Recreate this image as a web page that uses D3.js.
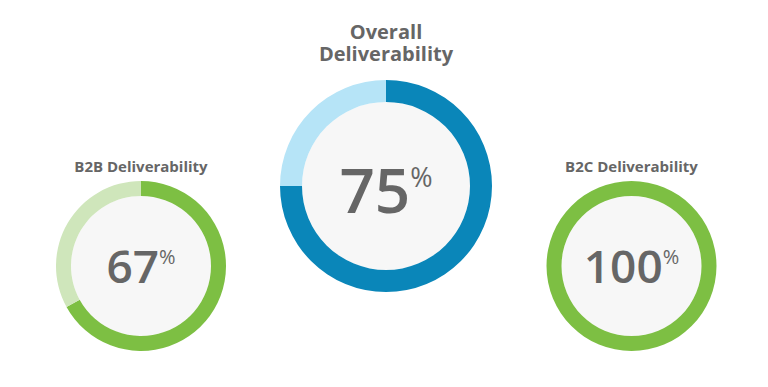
<!DOCTYPE html>
<html><head><meta charset="utf-8">
<script src="https://cdn.jsdelivr.net/npm/d3@7"></script>
<style>
html,body{margin:0;padding:0;background:#fff;}
svg{display:block;font-family:"Open Sans",sans-serif;}
</style></head>
<body><svg id="c" width="768" height="387"></svg>
<script>
// Data
const categories = ["B2B Deliverability", "Overall Deliverability", "B2C Deliverability"];
const titleLines = [["B2B Deliverability"], ["Overall", "Deliverability"], ["B2C Deliverability"]];
const values = [67, 75, 100];
const total = 100;

// Layout (not data)
const layout = [
  {cx: 141, cy: 266, r: 85, w: 15, dark: "#7dbf43", light: "#cfe6bb", numSize: 46, pctSize: 20, titleSize: 15, titleY: [172], numBase: 283},
  {cx: 386, cy: 186, r: 106, w: 22, dark: "#0a86b9", light: "#b6e4f7", numSize: 62, pctSize: 27, titleSize: 20, titleY: [39, 61], numBase: 213},
  {cx: 631.5, cy: 266, r: 85, w: 15, dark: "#7dbf43", light: "#cfe6bb", numSize: 46, pctSize: 20, titleSize: 15, titleY: [172], numBase: 283}
];

const svg = d3.select("#c");
const pie = d3.pie().sort(null).value(d => d);

values.forEach((v, i) => {
  const L = layout[i];
  const g = svg.append("g").attr("transform", `translate(${L.cx},${L.cy})`);
  const arc = d3.arc().innerRadius(L.r - L.w).outerRadius(L.r);
  g.append("circle").attr("r", L.r - L.w).attr("fill", "#f7f7f7");
  const arcs = pie([v, total - v]);
  g.selectAll("path").data(arcs).join("path")
    .attr("d", arc)
    .attr("fill", (d, j) => j === 0 ? L.dark : L.light);
  const t = g.append("text")
    .attr("y", L.numBase - L.cy)
    .attr("text-anchor", "middle")
    .attr("fill", "#666666");
  t.append("tspan").attr("font-size", L.numSize).attr("font-weight", 600).text(v);
  t.append("tspan").attr("font-size", L.pctSize).attr("dy", -(L.numSize * 0.42)).text("%");
  // title as a single text element with one tspan per line
  const tt = svg.append("text")
    .attr("text-anchor", "middle")
    .attr("font-size", L.titleSize)
    .attr("font-weight", 700)
    .attr("fill", "#666666");
  titleLines[i].forEach((line, k) => {
    tt.append("tspan").attr("x", L.cx).attr("y", L.titleY[k]).text(line);
  });
});
</script></body></html>
